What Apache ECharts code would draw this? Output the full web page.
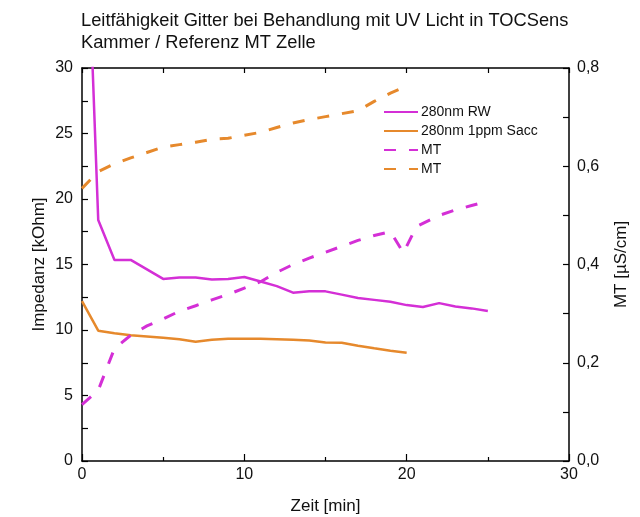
<!DOCTYPE html>
<html>
<head>
<meta charset="utf-8">
<script src="https://cdn.jsdelivr.net/npm/echarts@6/dist/echarts.min.js"></script>
<style>
  html, body { margin: 0; padding: 0; background: #fff; }
  #chart { width: 640px; height: 517px; }
</style>
</head>
<body>
<div id="chart"></div>
<script>
// Impedance of the sensor grid [kOhm] vs. time [min]
const timeRW   = [0, 1, 2, 3, 5, 6, 7, 8, 9, 10, 11, 12, 13, 14, 15, 16, 17, 18, 19, 20, 21, 22, 23, 24, 25];
const impRW    = [52, 18.4, 15.35, 15.35, 13.9, 14.0, 14.0, 13.85, 13.9, 14.05, 13.7, 13.35, 12.85, 12.95, 12.95, 12.7, 12.45, 12.3, 12.15, 11.9, 11.75, 12.05, 11.8, 11.65, 11.45];

const timeSacc = [0, 1, 2, 3, 4, 5, 6, 7, 8, 9, 10, 11, 12, 13, 14, 15, 16, 17, 18, 19, 20];
const impSacc  = [12.2, 9.95, 9.75, 9.6, 9.5, 9.4, 9.3, 9.1, 9.25, 9.33, 9.33, 9.33, 9.3, 9.25, 9.2, 9.05, 9.03, 8.8, 8.6, 8.42, 8.27];

// Reference cell conductivity MT [µS/cm] vs. time [min]
const timeMtRW = [0, 1, 2, 3, 4, 5, 6, 7, 8, 9, 10, 11, 12, 13, 14, 15, 16, 17, 18, 19, 19.8, 20.6, 22, 23, 24, 25];
const mtRW     = [0.115, 0.144, 0.229, 0.256, 0.275, 0.289, 0.305, 0.316, 0.328, 0.339, 0.352, 0.365, 0.384, 0.400, 0.413, 0.425, 0.437, 0.449, 0.459, 0.467, 0.424, 0.477, 0.500, 0.511, 0.520, 0.529];

const timeMtSacc = [0, 1, 2, 3, 4, 5, 6, 7, 8, 9, 10, 11, 12, 13, 14, 15, 16, 17, 18, 19, 20];
const mtSacc     = [0.555, 0.589, 0.605, 0.617, 0.628, 0.639, 0.644, 0.649, 0.655, 0.657, 0.663, 0.669, 0.679, 0.688, 0.695, 0.701, 0.707, 0.713, 0.732, 0.749, 0.763];

const seriesNames = ['280nm RW', '280nm 1ppm Sacc', 'MT (RW)', 'MT (Sacc)'];
const legendLabels = { 'MT (RW)': 'MT', 'MT (Sacc)': 'MT' };

const impedanceTicks = { min: 0, max: 30, interval: 5 };
const mtTicks = { min: 0, max: 0.8, interval: 0.2 };
const timeTicks = { min: 0, max: 30, interval: 10 };

const MAGENTA = '#d42fd6';
const ORANGE = '#e6892c';
const TEXT = '#111';
const FONT = 'Liberation Sans, Arial, sans-serif';

const pairs = (xs, ys) => xs.map((x, i) => [x, ys[i]]);

const chart = echarts.init(document.getElementById('chart'), null, { renderer: 'canvas' });

const axisLine = { show: true, onZero: false, lineStyle: { color: '#000', width: 1.5 } };

chart.setOption({
  animation: false,
  backgroundColor: '#fff',
  textStyle: { fontFamily: FONT },
  title: {
    text: 'Leitfähigkeit Gitter bei Behandlung mit UV Licht in TOCSens\nKammer / Referenz MT Zelle',
    left: 76,
    top: 5,
    textStyle: { fontSize: 18.3, fontWeight: 'normal', color: TEXT, lineHeight: 22, fontFamily: FONT }
  },
  legend: {
    orient: 'vertical',
    left: 383,
    top: 105,
    padding: 0,
    itemWidth: 34,
    itemHeight: 14,
    itemGap: 5,
    data: seriesNames,
    formatter: name => legendLabels[name] || name,
    itemStyle: { opacity: 0 },
    textStyle: { fontSize: 14, color: TEXT, fontFamily: FONT, padding: [0, 0, 0, -2] }
  },
  grid: { left: 82, right: 71, top: 68, bottom: 56, containLabel: false, outerBoundsMode: 'none' },
  xAxis: [
    {
      type: 'value',
      position: 'bottom',
      min: timeTicks.min, max: timeTicks.max, interval: timeTicks.interval,
      name: 'Zeit [min]',
      nameLocation: 'middle',
      nameGap: 37,
      nameTextStyle: { fontSize: 17, color: TEXT, fontFamily: FONT },
      axisLine: axisLine,
      axisTick: { inside: true, length: 7, lineStyle: { color: '#000', width: 1.2 } },
      minorTick: { show: true, splitNumber: 2, length: 4, lineStyle: { color: '#000', width: 1.2 } },
      axisLabel: { fontSize: 16, color: TEXT, margin: 6, fontFamily: FONT },
      splitLine: { show: false }
    },
    {
      type: 'value',
      position: 'top',
      min: timeTicks.min, max: timeTicks.max, interval: 5,
      axisLine: axisLine,
      axisTick: { inside: true, length: 5, lineStyle: { color: '#000', width: 1.2 } },
      axisLabel: { show: false },
      splitLine: { show: false }
    }
  ],
  yAxis: [
    {
      type: 'value',
      position: 'left',
      min: impedanceTicks.min, max: impedanceTicks.max, interval: impedanceTicks.interval,
      name: 'Impedanz [kOhm]',
      nameLocation: 'middle',
      nameGap: 34,
      nameMoveOverlap: false,
      nameTextStyle: { fontSize: 17, color: TEXT, fontFamily: FONT },
      axisLine: axisLine,
      axisTick: { inside: true, length: 6, lineStyle: { color: '#000', width: 1.2 } },
      minorTick: { show: true, splitNumber: 2, length: 6, lineStyle: { color: '#000', width: 1.2 } },
      axisLabel: { fontSize: 16, color: TEXT, margin: 9, fontFamily: FONT },
      splitLine: { show: false }
    },
    {
      type: 'value',
      position: 'right',
      min: mtTicks.min, max: mtTicks.max, interval: mtTicks.interval,
      name: 'MT [µS/cm]',
      nameLocation: 'middle',
      nameGap: 44,
      nameRotate: 90,
      nameTextStyle: { fontSize: 17, color: TEXT, fontFamily: FONT },
      axisLine: axisLine,
      axisTick: { inside: true, length: 6, lineStyle: { color: '#000', width: 1.2 } },
      minorTick: { show: true, splitNumber: 2, length: 6, lineStyle: { color: '#000', width: 1.2 } },
      axisLabel: {
        fontSize: 16, color: TEXT, margin: 8, fontFamily: FONT,
        formatter: v => v.toFixed(1).replace('.', ',')
      },
      splitLine: { show: false }
    }
  ],
  series: [
    {
      name: seriesNames[0], type: 'line', xAxisIndex: 0, yAxisIndex: 0,
      data: pairs(timeRW, impRW),
      showSymbol: false, symbol: 'none', clip: true,
      lineStyle: { color: MAGENTA, width: 2.5 },
      itemStyle: { color: MAGENTA }
    },
    {
      name: seriesNames[1], type: 'line', xAxisIndex: 0, yAxisIndex: 0,
      data: pairs(timeSacc, impSacc),
      showSymbol: false, symbol: 'none', clip: true,
      lineStyle: { color: ORANGE, width: 2.5 },
      itemStyle: { color: ORANGE }
    },
    {
      name: seriesNames[2], type: 'line', xAxisIndex: 0, yAxisIndex: 1,
      data: pairs(timeMtRW, mtRW),
      showSymbol: false, symbol: 'none', clip: true,
      lineStyle: { color: MAGENTA, width: 3, type: [12, 13] },
      itemStyle: { color: MAGENTA }
    },
    {
      name: seriesNames[3], type: 'line', xAxisIndex: 0, yAxisIndex: 1,
      data: pairs(timeMtSacc, mtSacc),
      showSymbol: false, symbol: 'none', clip: true,
      lineStyle: { color: ORANGE, width: 3, type: [12, 13] },
      itemStyle: { color: ORANGE }
    }
  ]
});
</script>
</body>
</html>
